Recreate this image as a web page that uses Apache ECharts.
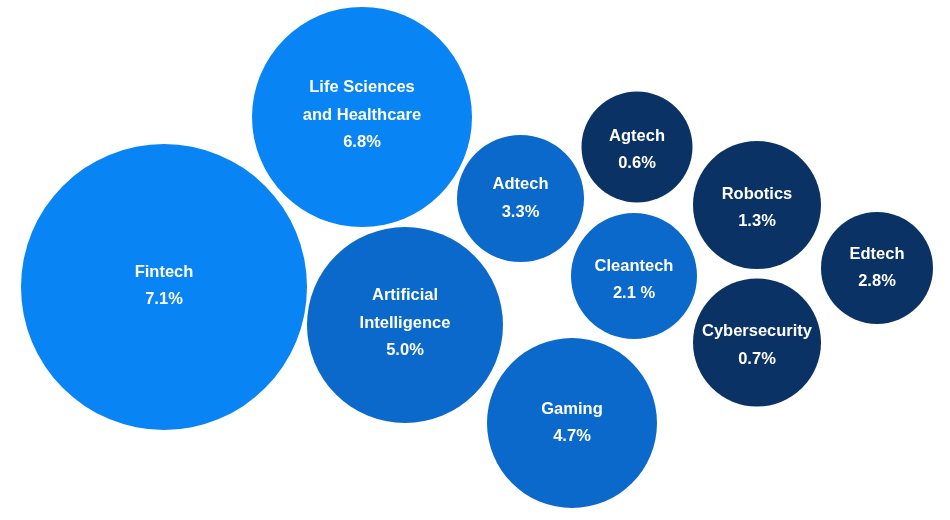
<!DOCTYPE html>
<html>
<head>
<meta charset="utf-8">
<script src="https://cdn.jsdelivr.net/npm/echarts@6/dist/echarts.min.js"></script>
<style>
html,body{margin:0;padding:0;background:#fff;}
#chart{width:950px;height:520px;}
</style>
</head>
<body>
<div id="chart"></div>
<script>
// Categories and values
var sectors = ['Fintech', 'Life Sciences\nand Healthcare', 'Artificial\nIntelligence', 'Adtech', 'Gaming', 'Agtech', 'Cleantech', 'Robotics', 'Cybersecurity', 'Edtech'];
var shares = [7.1, 6.8, 5.0, 3.3, 4.7, 0.6, 2.1, 1.3, 0.7, 2.8];
var shareLabels = ['7.1%', '6.8%', '5.0%', '3.3%', '4.7%', '0.6%', '2.1 %', '1.3%', '0.7%', '2.8%'];
var tier = [0, 0, 1, 1, 1, 2, 1, 2, 2, 2];
// Bubble layout coordinates (layout units) and radii
var bubbleX = [16.4, 36.2, 40.5, 52.05, 57.2, 63.7, 63.4, 75.7, 75.7, 87.7];
var bubbleY = [28.7, 11.7, 32.5, 19.85, 42.3, 14.7, 27.6, 20.5, 34.25, 26.8];
var bubbleR = [14.3, 11.0, 9.8, 6.35, 8.5, 5.55, 6.3, 6.4, 6.4, 5.6];

// Styles
var tierColors = ['#0984f5', '#0a69cb', '#0b3265'];
var labelShift = [-1, -2, -2, 0, 0, 3, 4, 3, 3, 0];

var data = sectors.map(function (s, i) {
  return { name: s, value: [bubbleX[i], bubbleY[i], bubbleR[i], shares[i], i] };
});

var chart = echarts.init(document.getElementById('chart'));
chart.setOption({
  animation: false,
  grid: { left: 0, right: 0, top: 0, bottom: 0 },
  xAxis: { type: 'value', min: 0, max: 95, show: false },
  yAxis: { type: 'value', min: 0, max: 52, inverse: true, show: false },
  series: [{
    type: 'custom',
    data: data,
    renderItem: function (params, api) {
      var i = api.value(4);
      var c = api.coord([api.value(0), api.value(1)]);
      var r = api.size([api.value(2), 0])[0];
      return {
        type: 'group',
        children: [{
          type: 'circle',
          shape: { cx: c[0], cy: c[1], r: r },
          style: { fill: tierColors[tier[i]] }
        }, {
          type: 'text',
          x: c[0],
          y: c[1] + labelShift[i],
          style: {
            text: sectors[i] + '\n' + shareLabels[i],
            fill: '#ffffff',
            font: 'bold 16.5px "Liberation Sans", Arial, sans-serif',
            lineHeight: 27.5,
            align: 'center',
            verticalAlign: 'middle'
          }
        }]
      };
    }
  }]
});
</script>
</body>
</html>
